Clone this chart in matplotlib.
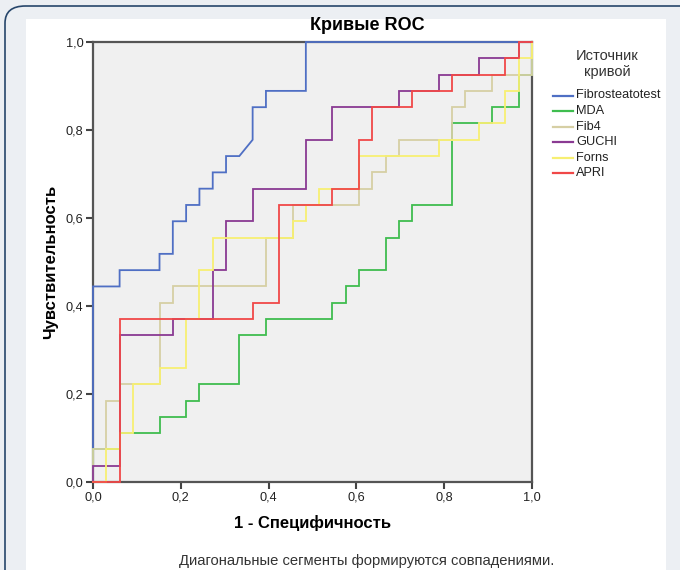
import matplotlib
matplotlib.use("Agg")
import matplotlib.pyplot as plt
from matplotlib.patches import FancyBboxPatch, Rectangle
from matplotlib.lines import Line2D

plt.rcParams["font.family"] = ["Liberation Sans", "DejaVu Sans"]

n_neg = 33
n_pos = 27

names = ["Fibrosteatotest", "MDA", "Fib4", "GUCHI", "Forns", "APRI"]
colors = ["#4f6fc4", "#3fbd4f", "#d6cfa4", "#8a3a92", "#f7ef72", "#f04848"]

# ROC vertices as counts (false positives, true positives)
fibro_fp = [0, 0, 2, 2, 5, 5, 6, 6, 7, 7, 8, 8, 9, 9, 10, 10, 11, 12, 12, 13, 13, 16, 16, 33]
fibro_tp = [0, 12, 12, 13, 13, 14, 14, 16, 16, 17, 17, 18, 18, 19, 19, 20, 20, 21, 23, 23, 24, 24, 27, 27]

mda_fp = [0, 0, 2, 2, 5, 5, 7, 7, 8, 8, 11, 11, 13, 13, 18, 18, 19, 19, 20, 20, 22, 22,
          23, 23, 24, 24, 27, 27, 30, 30, 32, 32, 33, 33]
mda_tp = [0, 2, 2, 3, 3, 4, 4, 5, 5, 6, 6, 9, 9, 10, 10, 11, 11, 12, 12, 13, 13, 15,
          15, 16, 16, 17, 17, 22, 22, 23, 23, 25, 25, 27]

fib4_fp = [0, 0, 1, 1, 2, 2, 5, 5, 6, 6, 13, 13, 15, 15, 20, 20, 21, 21, 22, 22, 23, 23,
           27, 27, 28, 28, 30, 30, 33, 33]
fib4_tp = [0, 2, 2, 5, 5, 6, 6, 11, 11, 12, 12, 15, 15, 17, 17, 18, 18, 19, 19, 20, 20, 21,
           21, 23, 23, 24, 24, 25, 25, 27]

guchi_fp = [0, 0, 2, 2, 6, 6, 9, 9, 10, 10, 12, 12, 16, 16, 18, 18, 23, 23, 26, 26, 29, 29,
            32, 32, 33]
guchi_tp = [0, 1, 1, 9, 9, 10, 10, 13, 13, 16, 16, 18, 18, 21, 21, 23, 23, 24, 24, 25, 25, 26,
            26, 27, 27]

forns_fp = [0, 1, 1, 2, 2, 3, 3, 5, 5, 7, 7, 8, 8, 9, 9, 15, 15, 16, 16, 17, 17, 20, 20,
            26, 26, 29, 29, 31, 31, 32, 32, 33, 33]
forns_tp = [0, 0, 2, 2, 3, 3, 6, 6, 7, 7, 10, 10, 13, 13, 15, 15, 16, 16, 17, 17, 18, 18, 20,
            20, 21, 21, 22, 22, 24, 24, 26, 26, 27]

apri_fp = [0, 2, 2, 12, 12, 14, 14, 18, 18, 20, 20, 21, 21, 24, 24, 27, 27, 31, 31, 32, 32, 33]
apri_tp = [0, 0, 10, 10, 11, 11, 17, 17, 18, 18, 21, 21, 23, 23, 24, 24, 25, 25, 26, 26, 27, 27]

curves = [
    (fibro_fp, fibro_tp),
    (mda_fp, mda_tp),
    (fib4_fp, fib4_tp),
    (guchi_fp, guchi_tp),
    (forns_fp, forns_tp),
    (apri_fp, apri_tp),
]

tick_vals = [0.0, 0.2, 0.4, 0.6, 0.8, 1.0]
tick_labels = ["0,0", "0,2", "0,4", "0,6", "0,8", "1,0"]

fig = plt.figure(figsize=(6.8, 5.7), dpi=100)
W, H = 680, 570

# page background and white panel
fig.patches.append(Rectangle((0, 0), 1, 1, transform=fig.transFigure,
                             facecolor="#eceff3", edgecolor="none", zorder=-3))
fig.patches.append(FancyBboxPatch((5 / W, -0.05), (W + 20) / W, 1.05 - 6 / H,
                                  boxstyle="round,pad=0,rounding_size=0.03",
                                  transform=fig.transFigure, facecolor="#eceff3",
                                  edgecolor="#27466b", linewidth=1.2, zorder=-2))
fig.patches.append(Rectangle((26 / W, 0), (666 - 26) / W, 1 - 19 / H,
                             transform=fig.transFigure, facecolor="white",
                             edgecolor="none", zorder=-1))

ax = fig.add_axes([93 / W, 1 - 482 / H, (532 - 93) / W, (482 - 42) / H])
ax.set_facecolor("#f0f0f0")

for (fp, tp), name, c in zip(curves, names, colors):
    xs = [v / n_neg for v in fp]
    ys = [v / n_pos for v in tp]
    ax.plot(xs, ys, color=c, linewidth=1.3, label=name, clip_on=False,
            solid_joinstyle="miter", zorder=3)

ax.set_xlim(0, 1)
ax.set_ylim(0, 1)
ax.set_xticks(tick_vals)
ax.set_xticklabels(tick_labels)
ax.set_yticks(tick_vals)
ax.set_yticklabels(tick_labels)
ax.tick_params(direction="out", length=5, width=1.5, color="#444444",
               labelsize=9.2, labelcolor="#222222", pad=2)
for s in ax.spines.values():
    s.set_color("#555555")
    s.set_linewidth(1.6)

ax.set_xlabel("1 - Специфичность", fontsize=12, fontweight="bold", labelpad=8)
ax.set_ylabel("Чувствительность", fontsize=12, fontweight="bold", labelpad=5)

fig.text(367 / W, 1 - 26 / H, "Кривые ROC", ha="center", va="center",
         fontsize=13, fontweight="bold")
fig.text(367 / W, 1 - 561 / H, "Диагональные сегменты формируются совпадениями.",
         ha="center", va="center", fontsize=10.6, color="#333333")

# legend drawn by hand to match the spacing of the original
fig.text(607 / W, 1 - 64 / H, "Источник\nкривой", ha="center", va="center",
         fontsize=10.5, color="#333333", linespacing=1.15)
for i, (name, c) in enumerate(zip(names, colors)):
    y = 1 - (95.5 + 15.5 * i) / H
    fig.add_artist(Line2D([553 / W, 573 / W], [y, y], color=c, linewidth=1.6,
                          transform=fig.transFigure))
    fig.text(576 / W, y, name, ha="left", va="center", fontsize=9.2,
             color="#222222")

fig.savefig("out.png", dpi=100)
